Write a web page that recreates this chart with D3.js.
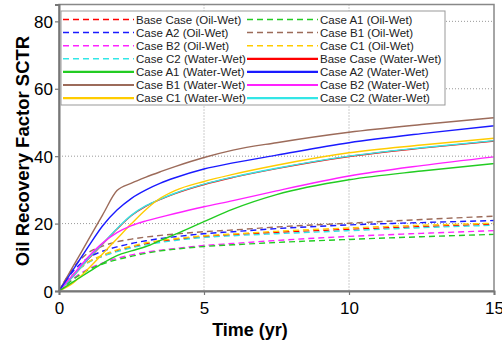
<!DOCTYPE html>
<html>
<head>
<meta charset="utf-8">
<script src="https://cdn.jsdelivr.net/npm/d3@7"></script>
<style>
  body { margin: 0; background: #fff; }
  svg { font-family: "Liberation Sans", Arial, sans-serif; }
</style>
</head>
<body>
<div id="chart"></div>
<script>
// time axis (yr)
const times = [0, 0.5, 1, 1.5, 2, 2.5, 3, 3.5, 4, 5, 6, 7.5, 10, 12.5, 15];

// recovery factor values, one array per case
const baseOil  = [0, 5.0, 8.5, 10.4, 11.9, 13.0, 14.0, 14.7, 15.2, 16.1, 16.7, 17.4, 18.3, 19.1, 19.8];
const a1Oil    = [0, 3.5, 6.2, 8.0, 9.3, 10.3, 11.2, 11.9, 12.4, 13.2, 13.7, 14.4, 15.3, 16.1, 16.8];
const a2Oil    = [0, 6.0, 9.8, 11.8, 13.1, 14.1, 14.9, 15.6, 16.1, 17.0, 17.6, 18.5, 19.6, 20.3, 20.9];
const b1Oil    = [0, 7.0, 11.3, 13.3, 14.6, 15.4, 16.0, 16.5, 16.9, 17.6, 18.1, 19.0, 20.1, 21.2, 22.2];
const b2Oil    = [0, 3.8, 6.5, 8.3, 9.7, 10.7, 11.5, 12.1, 12.6, 13.5, 14.1, 15.0, 16.2, 17.1, 17.9];
const c1Oil    = [0, 5.0, 8.6, 10.6, 12.2, 13.3, 14.3, 15.0, 15.5, 16.4, 16.9, 17.7, 18.7, 19.5, 20.1];
const c2Oil    = [0, 5.0, 8.4, 10.3, 11.7, 12.8, 13.7, 14.4, 15.0, 15.9, 16.4, 17.0, 17.9, 18.8, 19.5];
const baseWat  = [0, 4.5, 9.4, 13.9, 18.4, 22.4, 25.2, 27.2, 28.9, 31.6, 33.7, 36.3, 39.9, 42.4, 44.5];
const a1Wat    = [0, 2.8, 5.5, 8.2, 10.5, 11.9, 13.2, 15.0, 16.8, 20.6, 24.3, 28.6, 33.0, 35.6, 37.8];
const a2Wat    = [0, 6.5, 13.0, 19.3, 24.0, 27.5, 30.0, 32.0, 33.6, 36.2, 38.0, 40.3, 44.0, 46.7, 49.0];
const b1Wat    = [0, 7.5, 15.0, 22.5, 29.8, 32.0, 33.8, 35.4, 36.9, 39.6, 41.8, 44.0, 47.1, 49.4, 51.4];
const b2Wat    = [0, 5.0, 10.0, 14.2, 17.3, 19.4, 20.8, 21.9, 23.0, 25.0, 26.8, 29.7, 34.1, 37.2, 39.8];
const c1Wat    = [0, 2.5, 6.5, 11.0, 15.5, 20.0, 24.2, 27.6, 29.8, 32.5, 34.6, 37.3, 41.0, 43.3, 45.3];
const c2Wat    = [0, 4.5, 9.5, 14.0, 18.5, 22.5, 25.3, 27.3, 29.0, 31.7, 33.8, 36.4, 40.0, 42.5, 44.6];

// legend order (row by row, two columns)
const seriesNames = [
  "Base Case (Oil-Wet)", "Case A1 (Oil-Wet)",
  "Case A2 (Oil-Wet)", "Case B1 (Oil-Wet)",
  "Case B2 (Oil-Wet)", "Case C1 (Oil-Wet)",
  "Case C2 (Water-Wet)", "Base Case (Water-Wet)",
  "Case A1 (Water-Wet)", "Case A2 (Water-Wet)",
  "Case B1 (Water-Wet)", "Case B2 (Water-Wet)",
  "Case C1 (Water-Wet)", "Case C2 (Water-Wet)"
];
const seriesValues = [baseOil, a1Oil, a2Oil, b1Oil, b2Oil, c1Oil, c2Oil,
                      baseWat, a1Wat, a2Wat, b1Wat, b2Wat, c1Wat, c2Wat];
const seriesColors = ["#ff0000", "#22cc22", "#1a1aff", "#9c6b5a", "#ff22ff", "#ffcc00", "#33e6e6",
                      "#ff0000", "#22cc22", "#1a1aff", "#9c6b5a", "#ff22ff", "#ffcc00", "#33e6e6"];
const seriesDashed = [true, true, true, true, true, true, true,
                      false, false, false, false, false, false, false];

const xTicks = [0, 5, 10, 15];
const yTicks = [0, 20, 40, 60, 80];

const width = 502;
const height = 344;
const plotLeft = 59, plotRight = 494, plotTop = 4.5, plotBottom = 291;

const svg = d3.select('#chart')
  .append('svg')
    .attr('width', width)
    .attr('height', height);

const x = d3.scaleLinear().domain([0, 15]).range([plotLeft, plotRight]);
const y = d3.scaleLinear().domain([0, 85]).range([plotBottom, plotTop]);

// grid
svg.append('g')
  .selectAll('line')
  .data(xTicks.filter(d => d > 0 && d < 15))
  .join('line')
    .attr('x1', d => x(d)).attr('x2', d => x(d))
    .attr('y1', plotTop).attr('y2', plotBottom)
    .attr('stroke', '#999').attr('stroke-width', 1)
    .attr('stroke-dasharray', '1,2');

svg.append('g')
  .selectAll('line')
  .data(yTicks.filter(d => d > 0))
  .join('line')
    .attr('x1', plotLeft).attr('x2', plotRight)
    .attr('y1', d => y(d)).attr('y2', d => y(d))
    .attr('stroke', '#999').attr('stroke-width', 1)
    .attr('stroke-dasharray', '1,2');

// curves, drawn so the hidden ones sit underneath
const line = d3.line()
  .x((d, i) => x(times[i]))
  .y(d => y(d))
  .curve(d3.curveMonotoneX);

const drawOrder = [7, 0, 6, 5, 4, 3, 2, 1, 13, 12, 11, 10, 9, 8];
svg.append('g')
  .selectAll('path')
  .data(drawOrder)
  .join('path')
    .attr('d', i => line(seriesValues[i]))
    .attr('fill', 'none')
    .attr('stroke', i => seriesColors[i])
    .attr('stroke-width', 1.4)
    .attr('stroke-dasharray', i => seriesDashed[i] ? '6,4' : null);

// frame
svg.append('rect')
  .attr('x', plotLeft).attr('y', plotTop)
  .attr('width', plotRight - plotLeft).attr('height', plotBottom - plotTop)
  .attr('fill', 'none')
  .attr('stroke', '#888').attr('stroke-width', 1.5);

// axes
const xAxis = svg.append('g')
  .attr('transform', `translate(0,${plotBottom})`)
  .call(d3.axisBottom(x).tickValues(xTicks).tickSize(4).tickFormat(d3.format('d')));
const yAxis = svg.append('g')
  .attr('transform', `translate(${plotLeft},0)`)
  .call(d3.axisLeft(y).tickValues(yTicks).tickSize(4).tickFormat(d3.format('d')));

[xAxis, yAxis].forEach(a => {
  a.select('.domain').attr('stroke', '#777').attr('stroke-width', 2);
  a.selectAll('.tick line').attr('stroke', '#777').attr('stroke-width', 1.2);
  a.selectAll('.tick text')
    .attr('fill', '#000')
    .style('font-size', '17px')
    .style('font-family', '"Liberation Sans", Arial, sans-serif');
});
xAxis.selectAll('.tick text').attr('dy', '0.95em').attr('y', 7);
yAxis.selectAll('.tick text').attr('x', -6).attr('dy', '0.36em');

// axis titles
svg.append('text')
  .attr('x', 250).attr('y', 336)
  .attr('text-anchor', 'middle')
  .style('font-size', '18px').style('font-weight', 'bold')
  .text('Time (yr)');

svg.append('text')
  .attr('transform', 'translate(29,151) rotate(-90)')
  .attr('text-anchor', 'middle')
  .style('font-size', '18.5px').style('font-weight', 'bold')
  .text('Oil Recovery Factor SCTR');

// legend
const legend = svg.append('g');
legend.append('rect')
  .attr('x', 61).attr('y', 11)
  .attr('width', 384).attr('height', 94)
  .attr('fill', '#fff')
  .attr('stroke', '#999').attr('stroke-width', 1);

const colStart = [63, 247];
const rowY = i => 19.5 + 13.1 * Math.floor(i / 2);

const items = legend.selectAll('.item')
  .data(seriesNames.map((name, i) => i))
  .join('g')
    .attr('class', 'item');

items.append('line')
  .attr('x1', i => colStart[i % 2])
  .attr('x2', i => colStart[i % 2] + 71)
  .attr('y1', rowY).attr('y2', rowY)
  .attr('stroke', i => seriesColors[i])
  .attr('stroke-width', i => seriesDashed[i] ? 1.5 : 2.2)
  .attr('stroke-dasharray', i => seriesDashed[i] ? '6,4' : null);

items.append('text')
  .attr('x', i => colStart[i % 2] + 73)
  .attr('y', rowY)
  .attr('dy', '0.36em')
  .style('font-size', '11.5px')
  .attr('fill', '#222')
  .text(i => seriesNames[i]);
</script>
</body>
</html>
